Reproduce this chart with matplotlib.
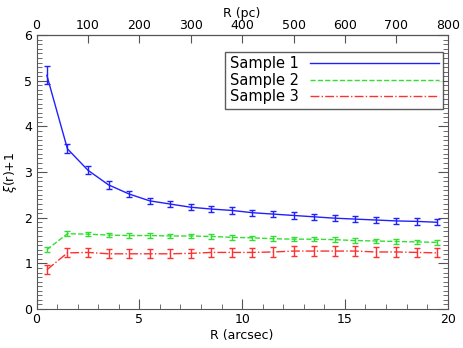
import numpy as np
import matplotlib
matplotlib.use('Agg')
from matplotlib import pyplot as plt
from matplotlib.lines import Line2D
from matplotlib.ticker import MultipleLocator, FixedLocator

# radius bins (arcsec)
r = np.arange(0.5, 20.0, 1.0)

s1 = [5.12, 3.51, 3.04, 2.72, 2.52, 2.37, 2.30, 2.23, 2.19, 2.16,
      2.11, 2.08, 2.05, 2.02, 1.99, 1.97, 1.95, 1.93, 1.92, 1.90]
s1_err = [0.2, 0.1, 0.09, 0.08, 0.07, 0.07, 0.07, 0.07, 0.07, 0.07,
          0.07, 0.07, 0.07, 0.07, 0.07, 0.07, 0.07, 0.07, 0.07, 0.07]

s2 = [1.30, 1.65, 1.64, 1.62, 1.61, 1.61, 1.60, 1.60, 1.59, 1.57,
      1.56, 1.54, 1.53, 1.53, 1.52, 1.50, 1.49, 1.48, 1.47, 1.46]
s2_err = [0.05] * 20

s3 = [0.86, 1.23, 1.24, 1.21, 1.21, 1.21, 1.21, 1.22, 1.24, 1.24,
      1.24, 1.25, 1.27, 1.27, 1.27, 1.27, 1.25, 1.25, 1.24, 1.23]
s3_err = [0.1] * 20

pc_ticks = [0, 100, 200, 300, 400, 500, 600, 700, 800]

labels = ['Sample 1', 'Sample 2', 'Sample 3']
colors = ['#2020ff', '#30e030', '#ff3030']
styles = ['-', '--', '-.']

plt.rcParams['font.family'] = ['DejaVu Sans']
plt.rcParams['font.size'] = 9

fig = plt.figure(figsize=(4.63, 3.48), dpi=100)
ax = fig.add_axes([0.079, 0.112, 0.888, 0.787])

for y, e, c, ls in zip([s1, s2, s3], [s1_err, s2_err, s3_err], colors, styles):
    ax.errorbar(r, y, yerr=e, color=c, lw=1, ls=ls, capsize=2, elinewidth=1)

ax.set_xlim(0, 20)
ax.set_ylim(0, 6)
ax.set_xlabel('R (arcsec)', labelpad=2)
ax.set_ylabel(r'$\xi$(r)+1', labelpad=4)
ax.xaxis.set_major_locator(MultipleLocator(5))
ax.xaxis.set_minor_locator(MultipleLocator(1))
ax.yaxis.set_major_locator(MultipleLocator(1))
ax.yaxis.set_minor_locator(MultipleLocator(0.1))
ax.tick_params(which='both', direction='in', right=True, color='#555555', pad=3)
ax.tick_params(which='major', length=7)
ax.tick_params(which='minor', length=3.5)
ax.tick_params(axis='x', which='both', top=False)
for sp in ax.spines.values():
    sp.set_color('#555555')

top = ax.secondary_xaxis('top', functions=(lambda x: x * 40, lambda p: p / 40))
top.set_xlabel('R (pc)', labelpad=2)
top.xaxis.set_major_locator(FixedLocator(pc_ticks))
top.tick_params(direction='in', length=6, color='#555555', pad=2)

handles = [Line2D([], [], color=c, ls=ls, lw=1) for c, ls in zip(colors, styles)]
leg = ax.legend(handles, labels, loc='upper right', handlelength=8.8, fancybox=False,
                edgecolor='#333333', borderpad=0.3, labelspacing=0.1, handletextpad=0.8,
                markerfirst=False, fontsize=10.5, borderaxespad=0,
                bbox_to_anchor=(0.989, 0.939))
leg.get_frame().set_linewidth(1)
# left-align the label column like the original
for col in leg._legend_handle_box.get_children():
    col.align = 'left'

plt.savefig('out.png', dpi=100)
